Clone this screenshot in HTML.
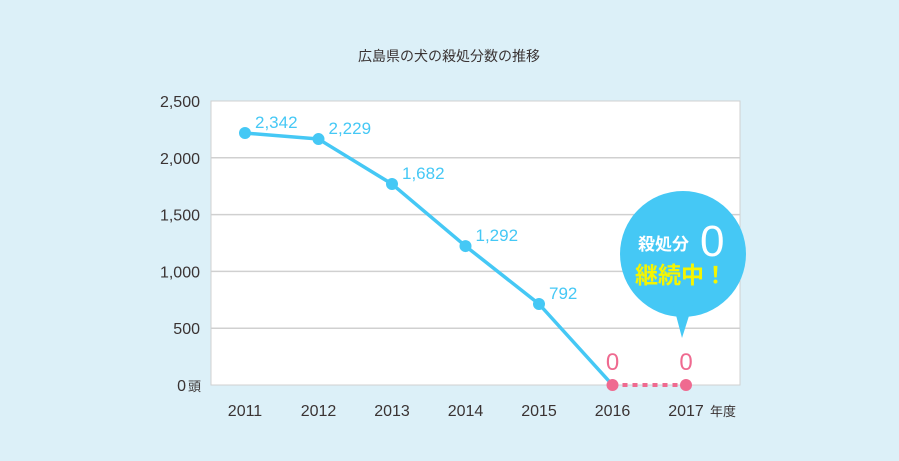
<!DOCTYPE html>
<html><head><meta charset="utf-8"><style>
html,body{margin:0;padding:0;background:#dcf0f8;}
svg{display:block;font-family:"Liberation Sans","Noto Sans CJK JP",sans-serif;}
</style></head><body>
<svg id="c" width="899" height="461" viewBox="0 0 899 461">
<rect width="899" height="461" fill="#dcf0f8"/>
<text x="449" y="61" text-anchor="middle" font-size="14" fill="#3a3333">広島県の犬の殺処分数の推移</text>
<rect x="211" y="101" width="529" height="284" fill="#fff" stroke="#d0d0d0"/>
<g id="grid"></g><g id="yt"></g><g id="xt"></g><g id="series"></g>
<text x="710" y="416" font-size="13" fill="#3a3333">年度</text>
<g>
<circle cx="683" cy="254" r="63" fill="#45c8f5"/>
<polygon points="672,300 694,300 682,338" fill="#45c8f5"/>
<text x="638" y="250" font-size="17" font-weight="bold" fill="#fff">殺処分</text>
<text x="700" y="256" font-size="44" fill="#fff">0</text>
<text x="635" y="283" font-size="23" font-weight="bold" fill="#f5f500">継続中！</text>
</g>
</svg>
<script>
const categories=["2011","2012","2013","2014","2015","2016","2017"];
const values=[2218,2165,1769,1223,713,0,0];
const labels=["2,342","2,229","1,682","1,292","792","0","0"];
const yTicks=[0,500,1000,1500,2000,2500];
const yTickLabels=["0","500","1,000","1,500","2,000","2,500"];
const NS="http://www.w3.org/2000/svg";
const x=i=>245+i*73.5;
const y=v=>385-v*(284/2500);
function mk(t,a,p){const e=document.createElementNS(NS,t);for(const k in a)e.setAttribute(k,a[k]);p.appendChild(e);return e;}
const grid=document.getElementById('grid'),yt=document.getElementById('yt'),xt=document.getElementById('xt'),s=document.getElementById('series');
yTicks.forEach((v,i)=>{
 if(v>0&&v<2500){const l=mk('line',{x1:211,x2:740,y1:y(v),y2:y(v),stroke:'#d0d0d0','stroke-width':1.5},grid);
 
 }
 const t=mk('text',{x:v===0?186:200,y:y(v)+6,'text-anchor':'end','font-size':16,fill:'#3a3333'},yt);
 t.textContent=yTickLabels[i];
 
 
});
const unit=mk('text',{x:188,y:y(0)+6,'font-size':13,fill:'#3a3333'},yt);unit.textContent='頭';


categories.forEach((c,i)=>{const t=mk('text',{x:x(i),y:416,'text-anchor':'middle','font-size':16,fill:'#3a3333'},xt);t.textContent=c;
 
 });
const n=values.length;
const pts=values.slice(0,n-1).map((v,i)=>x(i)+','+y(v)).join(' ');
const pl=mk('polyline',{points:pts,fill:'none',stroke:'#45c8f5','stroke-width':3.5,'stroke-linejoin':'round'},s);


const dl=mk('line',{x1:x(n-2),y1:y(values[n-2]),x2:x(n-1),y2:y(values[n-1]),stroke:'#ef6a90','stroke-width':4,'stroke-dasharray':'5,5'},s);


values.forEach((v,i)=>{
 const pink=v===0;
 const c=mk('circle',{cx:x(i),cy:y(v),r:6,fill:pink?'#ef6a90':'#45c8f5'},s);
 
 
 const t=mk('text',{x:pink?x(i):x(i)+10,y:pink?y(v)-15:y(v)-5,'text-anchor':pink?'middle':'start','font-size':pink?24:17,fill:pink?'#ef6a90':'#45c8f5'},s);
 t.textContent=labels[i];
 
 
});
</script>
</body></html>
